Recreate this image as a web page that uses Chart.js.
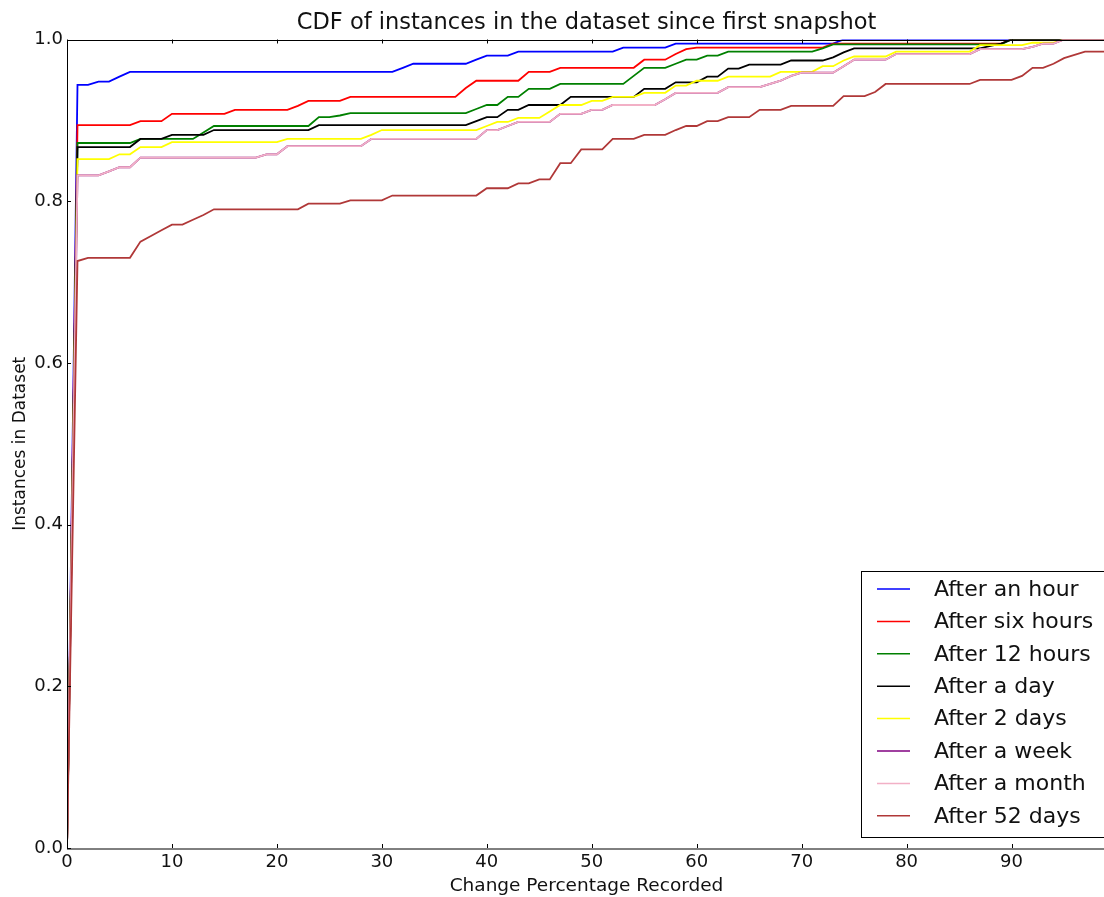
<!DOCTYPE html>
<html>
<head>
<meta charset="utf-8">
<script src="https://cdn.jsdelivr.net/npm/chart.js@4.4.1/dist/chart.umd.min.js"></script>
<style>
html, body { margin: 0; padding: 0; overflow: hidden; background: #fff; }
#wrap { width: 1108px; height: 897px; }
</style>
</head>
<body>
<div id="wrap"><canvas id="myChart" width="1108" height="897"></canvas></div>
<script>
const ctx = document.getElementById('myChart')

// x: change percentage recorded
const pct = [
  0, 1, 2, 3, 4, 5, 6, 7, 8, 9, 10, 11, 12, 13, 14, 15, 16, 17, 18, 19,
  20, 21, 22, 23, 24, 25, 26, 27, 28, 29, 30, 31, 32, 33, 34, 35, 36, 37, 38, 39,
  40, 41, 42, 43, 44, 45, 46, 47, 48, 49, 50, 51, 52, 53, 54, 55, 56, 57, 58, 59,
  60, 61, 62, 63, 64, 65, 66, 67, 68, 69, 70, 71, 72, 73, 74, 75, 76, 77, 78, 79,
  80, 81, 82, 83, 84, 85, 86, 87, 88, 89, 90, 91, 92, 93, 94, 95, 96, 97, 98, 99]

const anHour = [
  0, .944, .944, .948, .948, .954, .96, .96, .96, .96,
  .96, .96, .96, .96, .96, .96, .96, .96, .96, .96,
  .96, .96, .96, .96, .96, .96, .96, .96, .96, .96,
  .96, .96, .965, .97, .97, .97, .97, .97, .97, .975,
  .98, .98, .98, .985, .985, .985, .985, .985, .985, .985,
  .985, .985, .985, .99, .99, .99, .99, .99, .995, .995,
  .995, .995, .995, .995, .995, .995, .995, .995, .995, .995,
  .995, .995, .995, .995, 1, 1, 1, 1, 1, 1,
  1, 1, 1, 1, 1, 1, 1, 1, 1, 1,
  1, 1, 1, 1, 1, 1, 1, 1, 1, 1]

const sixHours = [
  0, .894, .894, .894, .894, .894, .894, .899, .899, .899,
  .908, .908, .908, .908, .908, .908, .913, .913, .913, .913,
  .913, .913, .918, .924, .924, .924, .924, .929, .929, .929,
  .929, .929, .929, .929, .929, .929, .929, .929, .94, .949,
  .949, .949, .949, .949, .96, .96, .96, .965, .965, .965,
  .965, .965, .965, .965, .965, .975, .975, .975, .982, .988,
  .99, .99, .99, .99, .99, .99, .99, .99, .99, .99,
  .99, .99, .99, .995, .995, .995, .995, .995, .995, .995,
  .995, .995, .995, .995, .995, .995, .995, .995, .995, .995,
  1, 1, 1, 1, 1, 1, 1, 1, 1, 1]

const twelveHours = [
  0, .872, .872, .872, .872, .872, .872, .877, .877, .877,
  .877, .877, .877, .885, .893, .893, .893, .893, .893, .893,
  .893, .893, .893, .893, .904, .904, .906, .909, .909, .909,
  .909, .909, .909, .909, .909, .909, .909, .909, .909, .914,
  .919, .919, .929, .929, .939, .939, .939, .945, .945, .945,
  .945, .945, .945, .945, .955, .965, .965, .965, .97, .975,
  .975, .98, .98, .985, .985, .985, .985, .985, .985, .985,
  .985, .985, .989, .994, .994, .994, .994, .994, .994, .994,
  .994, .994, .994, .994, .994, .994, .994, .994, .994, .994,
  1, 1, 1, 1, 1, 1, 1, 1, 1, 1]

const aDay = [
  0, .867, .867, .867, .867, .867, .867, .877, .877, .877,
  .882, .882, .882, .882, .888, .888, .888, .888, .888, .888,
  .888, .888, .888, .888, .894, .894, .894, .894, .894, .894,
  .894, .894, .894, .894, .894, .894, .894, .894, .894, .899,
  .904, .904, .913, .913, .919, .919, .919, .919, .929, .929,
  .929, .929, .929, .929, .929, .939, .939, .939, .947, .947,
  .947, .954, .954, .964, .964, .969, .969, .969, .969, .974,
  .974, .974, .974, .978, .984, .989, .989, .989, .989, .989,
  .989, .989, .989, .989, .989, .989, .989, .989, .992, .995,
  1, 1, 1, 1, 1, 1, 1, 1, 1, 1]

const twoDays = [
  0, .852, .852, .852, .852, .858, .858, .867, .867, .867,
  .873, .873, .873, .873, .873, .873, .873, .873, .873, .873,
  .873, .877, .877, .877, .877, .877, .877, .877, .877, .882,
  .888, .888, .888, .888, .888, .888, .888, .888, .888, .888,
  .893, .898, .898, .903, .903, .903, .911, .919, .919, .919,
  .924, .924, .929, .929, .929, .934, .934, .934, .943, .943,
  .949, .949, .949, .954, .954, .954, .954, .954, .96, .96,
  .96, .96, .967, .967, .974, .979, .979, .979, .979, .985,
  .985, .985, .985, .985, .985, .985, .985, .993, .993, .993,
  .993, .993, .996, .996, .996, 1, 1, 1, 1, 1]

const aWeek = [
  0, .832, .832, .832, .837, .842, .842, .854, .854, .854,
  .854, .854, .854, .854, .854, .854, .854, .854, .854, .858,
  .858, .868, .868, .868, .868, .868, .868, .868, .868, .877,
  .877, .877, .877, .877, .877, .877, .877, .877, .877, .877,
  .888, .888, .893, .898, .898, .898, .898, .908, .908, .908,
  .913, .913, .919, .919, .919, .919, .919, .926, .934, .934,
  .934, .934, .934, .941, .941, .941, .941, .945, .949, .955,
  .959, .959, .959, .959, .967, .975, .975, .975, .975, .982,
  .982, .982, .982, .982, .982, .982, .982, .988, .988, .988,
  .988, .988, .991, .995, .995, 1, 1, 1, 1, 1]

const aMonth = [
  0, .832, .832, .832, .837, .842, .842, .854, .854, .854,
  .854, .854, .854, .854, .854, .854, .854, .854, .854, .858,
  .858, .868, .868, .868, .868, .868, .868, .868, .868, .877,
  .877, .877, .877, .877, .877, .877, .877, .877, .877, .877,
  .888, .888, .893, .898, .898, .898, .898, .908, .908, .908,
  .913, .913, .919, .919, .919, .919, .919, .926, .934, .934,
  .934, .934, .934, .941, .941, .941, .941, .945, .949, .955,
  .959, .959, .959, .959, .967, .975, .975, .975, .975, .982,
  .982, .982, .982, .982, .982, .982, .982, .988, .988, .988,
  .988, .988, .991, .995, .995, 1, 1, 1, 1, 1]

const fiftyTwoDays = [
  0, .726, .73, .73, .73, .73, .73, .75, .757, .764,
  .771, .771, .777, .783, .79, .79, .79, .79, .79, .79,
  .79, .79, .79, .797, .797, .797, .797, .801, .801, .801,
  .801, .807, .807, .807, .807, .807, .807, .807, .807, .807,
  .816, .816, .816, .822, .822, .827, .827, .847, .847, .864,
  .864, .864, .877, .877, .877, .882, .882, .882, .888, .893,
  .893, .899, .899, .904, .904, .904, .913, .913, .913, .918,
  .918, .918, .918, .918, .93, .93, .93, .935, .945, .945,
  .945, .945, .945, .945, .945, .945, .945, .95, .95, .95,
  .95, .955, .965, .965, .97, .977, .981, .985, .985, .985]

const etiquetas = ['After an hour', 'After six hours', 'After 12 hours', 'After a day',
  'After 2 days', 'After a week', 'After a month', 'After 52 days']
const series = [anHour, sixHours, twelveHours, aDay, twoDays, aWeek, aMonth, fiftyTwoDays]
const colores = ['#0000ff', '#ff0000', '#008000', '#000000', '#ffff00', '#800080', '#f2b0c6', '#b03838']

const FONT = "'DejaVu Sans', sans-serif"

// matplotlib-like frame, inward ticks and legend box in the lower right
const marco = {
  id: 'marco',
  afterDraw(chart) {
    const c = chart.ctx
    const a = chart.chartArea
    const xs = chart.scales.x
    const ys = chart.scales.y
    c.save()
    c.strokeStyle = '#000'
    c.lineWidth = 1
    c.beginPath()
    xs.ticks.forEach(t => {
      const px = Math.round(xs.getPixelForValue(t.value)) + 0.5
      c.moveTo(px, a.bottom); c.lineTo(px, a.bottom - 4)
      c.moveTo(px, a.top); c.lineTo(px, a.top + 4)
    })
    ys.ticks.forEach(t => {
      const py = Math.round(ys.getPixelForValue(t.value)) + 0.5
      c.moveTo(a.left, py); c.lineTo(a.left + 4, py)
    })
    c.stroke()
    c.strokeRect(Math.round(a.left) + 0.5, Math.round(a.top) + 0.5, a.right - a.left, a.bottom - a.top)

    // legend
    const bx = a.right - 245, bw = 270
    const by = a.bottom - 277, bh = 266
    c.fillStyle = '#fff'
    c.fillRect(bx, by, bw, bh)
    c.strokeRect(bx + 0.5, by + 0.5, bw, bh)
    c.font = '22px ' + FONT
    c.textBaseline = 'middle'
    c.textAlign = 'left'
    chart.data.datasets.forEach((ds, i) => {
      const cy = by + 18 + i * 32.4
      c.strokeStyle = ds.borderColor
      c.lineWidth = 1.5
      c.beginPath()
      c.moveTo(bx + 16, cy); c.lineTo(bx + 49, cy)
      c.stroke()
      c.fillStyle = '#111'
      c.fillText(ds.label, bx + 73, cy + 1)
    })
    c.restore()
  }
}

const myChart = new Chart(ctx, {
  type: 'line',
  data: {
    labels: pct,
    datasets: series.map((s, i) => ({
      label: etiquetas[i],
      data: s,
      borderColor: colores[i],
      backgroundColor: colores[i],
      borderWidth: 1.8,
      pointRadius: 0,
      tension: 0,
      fill: false,
      order: series.length - i
    }))
  },
  options: {
    responsive: false,
    animation: false,
    devicePixelRatio: 1,
    layout: { padding: { left: 0, right: 2, top: 0, bottom: 0 } },
    plugins: {
      legend: { display: false },
      tooltip: { enabled: false },
      title: {
        display: true,
        text: 'CDF of instances in the dataset since first snapshot',
        color: '#111',
        fullSize: false,
        font: { family: FONT, size: 22.5, weight: 'normal' },
        padding: { top: 10, bottom: 2.5 }
      }
    },
    scales: {
      x: {
        type: 'linear',
        min: 0,
        max: 99,
        grid: { display: false, drawTicks: false },
        border: { display: false },
        ticks: { stepSize: 10, color: '#111', padding: 4, font: { family: FONT, size: 18 } },
        afterBuildTicks: s => { s.ticks = s.ticks.filter(t => t.value % 10 === 0) },
        afterFit: s => { s.height = 49 },
        title: {
          display: true, text: 'Change Percentage Recorded', color: '#111',
          font: { family: FONT, size: 18.5 }, padding: { top: 0, bottom: 0 }
        }
      },
      y: {
        min: 0,
        max: 1,
        grid: { display: false, drawTicks: false },
        border: { display: false },
        ticks: { stepSize: 0.2, color: '#111', padding: 4, font: { family: FONT, size: 18 },
          callback: v => v.toFixed(1) },
        afterFit: s => { s.width = 67 },
        title: {
          display: true, text: 'Instances in Dataset', color: '#111',
          font: { family: FONT, size: 17 }, padding: { top: 10, bottom: 0 }
        }
      }
    }
  },
  plugins: [marco]
});
</script>
</body>
</html>
